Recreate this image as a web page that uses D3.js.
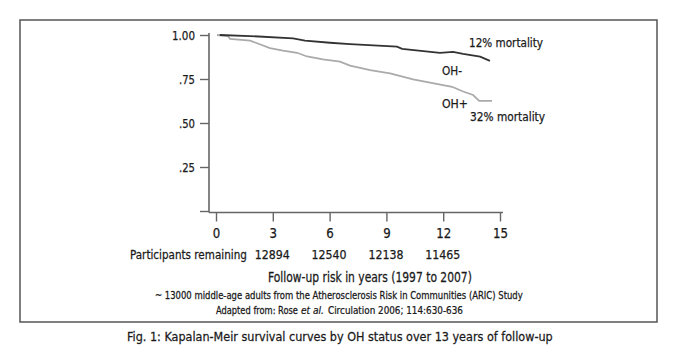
<!DOCTYPE html>
<html><head><meta charset="utf-8">
<script src="https://cdn.jsdelivr.net/npm/d3@7"></script>
<style>
html,body{margin:0;padding:0;background:#fff;}
svg text{font-family:"DejaVu Sans Condensed","Liberation Sans Narrow","Roboto Condensed",sans-serif;fill:#1a1a1a;stroke:#1a1a1a;stroke-width:0.25px;}
</style></head>
<body>
<svg id="c" width="677" height="351"></svg>
<script>
// Data
const xTicks = [0, 3, 6, 9, 12, 15];
const yTicks = [0, 0.25, 0.5, 0.75, 1];
const yTickLabels = ["", ".25", ".50", ".75", "1.00"];
const remainingYears = [3, 6, 9, 12];
const remainingCounts = ["12894", "12540", "12138", "11465"];
// OH- (dark) survival curve: [years, survival]
const ohNeg = [[0.2,1.0],[1.8,0.994],[4.07,0.981],[4.7,0.968],[6.02,0.956],[7.08,0.948],[9.56,0.934],[9.83,0.921],[11.83,0.899],[12.52,0.904],[13.05,0.893],[13.95,0.877],[14.47,0.853]];
// OH+ (gray) survival curve
const ohPos = [[0.05,1.0],[0.63,0.994],[0.74,0.978],[1.8,0.968],[2.17,0.953],[2.85,0.925],[3.54,0.911],[4.28,0.899],[4.81,0.878],[5.65,0.862],[6.55,0.849],[7.08,0.826],[8.14,0.801],[9.19,0.782],[10.41,0.748],[11.3,0.729],[12.47,0.706],[13.05,0.679],[13.58,0.659],[13.9,0.626],[14.58,0.626]];

const svg = d3.select("#c");
svg.append("rect").attr("x",20).attr("y",20).attr("width",637).attr("height",302)
  .attr("fill","none").attr("stroke","#555").attr("stroke-width",1.5);

const x = d3.scaleLinear().domain([0,15]).range([216,500]);
const y = d3.scaleLinear().domain([0,1]).range([211,35]);
const axisX0 = 209, axisY0 = 212.5;
const axisColor = "#666";

function fit(sel, w){ sel.attr("textLength", w).attr("lengthAdjust","spacingAndGlyphs"); return sel; }
// horizontally squeeze a text (placed at left x0, baseline y0) to width w
function squeeze(txt, x0, y0, w){
  txt.attr("x",0).attr("y",0);
  const nat = txt.node().getComputedTextLength();
  txt.attr("transform",`translate(${x0},${y0}) scale(${w/nat},1)`);
  return txt;
}

// y axis
const ya = svg.append("g").attr("transform",`translate(${axisX0},0)`)
  .call(d3.axisLeft(y).tickValues(yTicks).tickSize(9).tickSizeOuter(0).tickPadding(5)
    .tickFormat((d,i)=>yTickLabels[i]));
ya.select(".domain").remove();
ya.selectAll("line").attr("stroke",axisColor).attr("stroke-width",1.4);
ya.selectAll("text").attr("font-size",13).style("font-family",null).style("fill",null)
  .each(function(d,i){ const t=yTickLabels[i]; if(t) d3.select(this).attr("textLength", t.length===4?23:16).attr("lengthAdjust","spacingAndGlyphs"); });
svg.append("line").attr("x1",axisX0).attr("x2",axisX0).attr("y1",y(1)-2).attr("y2",axisY0)
  .attr("stroke",axisColor).attr("stroke-width",1.6);

// x axis
const xa = svg.append("g").attr("transform",`translate(0,${axisY0})`)
  .call(d3.axisBottom(x).tickValues(xTicks).tickSize(9).tickSizeOuter(0).tickPadding(7));
xa.select(".domain").remove();
xa.selectAll("line").attr("stroke",axisColor).attr("stroke-width",1.4);
xa.selectAll("text").attr("font-size",13.5)
  .each(function(d){ d3.select(this).attr("textLength", d>=10?15:7.5).attr("lengthAdjust","spacingAndGlyphs"); });
svg.append("line").attr("x1",axisX0).attr("x2",x(15)+3).attr("y1",axisY0).attr("y2",axisY0)
  .attr("stroke",axisColor).attr("stroke-width",1.6);

// curves
const line = d3.line().x(d=>x(d[0])).y(d=>y(d[1]));
svg.append("path").datum(ohPos).attr("d",line).attr("fill","none")
  .attr("stroke","#aaa").attr("stroke-width",1.8);
svg.append("path").datum(ohNeg).attr("d",line).attr("fill","none")
  .attr("stroke","#333").attr("stroke-width",1.8);

// annotations
const ann = [
  {t:"12% mortality", x:469, y:47, w:74},
  {t:"OH-", x:442, y:75, w:20},
  {t:"OH+", x:442, y:108, w:26},
  {t:"32% mortality", x:470, y:121, w:75}
];
svg.selectAll("text.ann").data(ann).join("text").attr("class","ann")
  .attr("x",d=>d.x).attr("y",d=>d.y).attr("font-size",13).text(d=>d.t)
  .attr("textLength",d=>d.w).attr("lengthAdjust","spacingAndGlyphs");

// participants remaining
squeeze(svg.append("text").attr("font-size",12.5).text("Participants remaining"), 130, 259, 117);
svg.selectAll("text.rem").data(remainingYears).join("text").attr("class","rem")
  .attr("x",(d)=>x(d)-18).attr("y",259).attr("font-size",12.5)
  .text((d,i)=>remainingCounts[i]).attr("textLength",35).attr("lengthAdjust","spacingAndGlyphs");

squeeze(svg.append("text").attr("font-size",13.5).text("Follow-up risk in years (1997 to 2007)"), 268, 282, 204);
squeeze(svg.append("text").attr("font-size",10.5)
  .text("~ 13000 middle-age adults from the Atherosclerosis Risk in Communities (ARIC) Study"), 155, 299, 368);
squeeze(svg.append("text").attr("font-size",10.5).text("Adapted from: Rose"), 216, 314, 82);
squeeze(svg.append("text").attr("font-size",10.5).attr("font-style","italic").text("et al."), 301, 314, 23);
squeeze(svg.append("text").attr("font-size",10.5).text("Circulation 2006; 114:630-636"), 328, 314, 135);

squeeze(svg.append("text").attr("font-size",13)
  .text("Fig. 1: Kapalan-Meir survival curves by OH status over 13 years of follow-up"), 127, 341, 426);
</script>
</body></html>
